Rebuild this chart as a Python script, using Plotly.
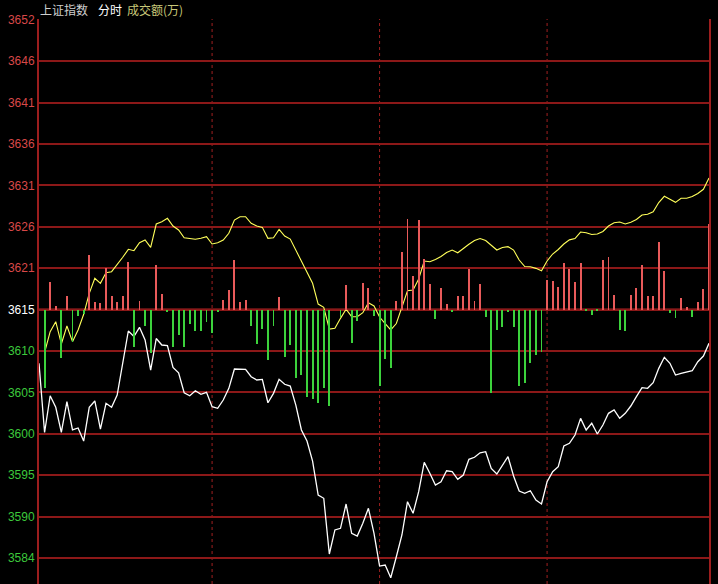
import plotly.graph_objects as go

# ---------------- data ----------------
minutes = list(range(121))  # 2-minute sample index across the session

index_price = [
    3608.74, 3600.05, 3604.67, 3603.22, 3600.08, 3603.94, 3600.37, 3600.62, 3598.98, 3603.22,
    3604.01, 3600.49, 3603.72, 3603.22, 3604.76, 3608.78, 3612.80, 3612.11, 3613.26, 3611.67,
    3607.90, 3611.86, 3611.04, 3610.98, 3608.22, 3607.56, 3605.05, 3604.67, 3605.30, 3604.85,
    3605.10, 3603.29, 3603.09, 3604.13, 3605.60, 3608.03, 3607.99, 3607.99, 3607.06, 3606.65,
    3606.73, 3603.79, 3604.97, 3606.73, 3606.11, 3605.89, 3603.50, 3600.37, 3598.98, 3596.47,
    3592.20, 3591.79, 3584.79, 3587.81, 3588.02, 3591.07, 3587.39, 3587.05, 3588.65, 3590.53,
    3587.39, 3583.28, 3583.41, 3581.81, 3584.45, 3587.18, 3591.36, 3589.90, 3592.62, 3596.31,
    3594.93, 3593.46, 3593.87, 3595.25, 3595.13, 3594.17, 3594.71, 3596.69, 3596.94, 3597.51,
    3597.64, 3595.55, 3594.84, 3595.97, 3597.01, 3594.59, 3592.70, 3592.41, 3592.74, 3591.57,
    3591.07, 3593.87, 3595.13, 3595.76, 3598.36, 3598.69, 3599.74, 3601.83, 3600.37, 3601.21,
    3599.86, 3600.99, 3602.46, 3602.88, 3601.83, 3602.46, 3603.38, 3604.55, 3605.68, 3605.60,
    3606.31, 3608.11, 3609.50, 3608.74, 3607.27, 3607.49, 3607.61, 3607.81, 3608.94, 3609.66,
    3611.25,
]

lead_price = [
    None, 3610.10, 3612.71, 3613.97, 3611.17, 3613.43, 3611.46, 3612.93, 3614.90, 3617.53,
    3619.42, 3618.79, 3620.12, 3620.25, 3621.09, 3622.06, 3623.06, 3622.89, 3623.89, 3624.23,
    3623.31, 3626.24, 3626.53, 3626.95, 3625.99, 3625.49, 3624.52, 3624.44, 3624.32, 3624.44,
    3624.64, 3623.73, 3623.89, 3624.23, 3625.07, 3626.74, 3627.16, 3627.16, 3626.33, 3625.99,
    3625.82, 3624.44, 3624.52, 3625.57, 3624.73, 3624.35, 3622.97, 3621.38, 3620.12, 3618.79,
    3616.19, 3615.78, 3613.05, 3613.14, 3614.39, 3615.53, 3614.60, 3614.60, 3615.10, 3616.35,
    3615.94, 3614.56, 3613.74, 3612.93, 3613.74, 3615.75, 3617.86, 3617.95, 3619.33, 3621.59,
    3621.50, 3621.78, 3622.16, 3622.66, 3622.97, 3622.63, 3623.19, 3623.69, 3624.17, 3624.42,
    3624.17, 3623.60, 3622.97, 3623.29, 3623.39, 3622.97, 3621.72, 3620.90, 3620.88, 3620.67,
    3620.36, 3621.59, 3622.47, 3623.04, 3623.73, 3624.25, 3624.41, 3625.23, 3625.15, 3624.92,
    3624.98, 3625.30, 3625.99, 3626.39, 3626.49, 3626.24, 3626.46, 3626.80, 3627.37, 3627.47,
    3627.78, 3628.94, 3629.72, 3629.34, 3628.96, 3629.47, 3629.47, 3629.69, 3630.07, 3630.60,
    3632.02,
]

power_bars = [
    0, -788, 278, 37, -482, 135, -322, -63, -45, 545,
    78, 65, 418, 137, 78, 137, 477, -372, 88, -162,
    -438, 445, 155, -22, -372, -255, -372, -145, -212, -212,
    -122, -232, -22, 95, 195, 495, 75, 95, -165, -345,
    -195, -505, -162, 128, -472, -355, -680, -655, -870, -898,
    -938, -788, -960, 0, -73, 245, -332, -110, 268, 220,
    -63, -765, -495, -580, 88, 578, 905, 335, 895, 505,
    255, -98, 220, 55, -22, 135, 135, 408, 87, 255,
    -72, -832, -205, -172, -22, -172, -765, -738, -532, -455,
    -422, 295, 285, 228, 462, 405, 278, 462, -15, -55,
    -15, 498, 522, 145, -205, -210, 145, 215, 445, 135,
    132, 675, 388, -38, -88, 118, 28, -72, 78, 207,
    855,
]

tick_labels = ["3584", "3590", "3595", "3600", "3605", "3610", "3615",
               "3621", "3626", "3631", "3636", "3641", "3646", "3652"]
tick_steps = list(range(-6, 8))
hour_marks = [31, 61, 91]

# ---------------- styling ----------------
PREV_CLOSE = 3615.5
STEP = 5.2
Y_LO = PREV_CLOSE - 6.63 * STEP
Y_HI = PREV_CLOSE + 7.017 * STEP
BAR_PER_POINT = 79.6

GRID = "#8c1818"
RED_TXT = "#d84848"
GREEN_TXT = "#3cc83c"

tickvals = [PREV_CLOSE + k * STEP for k in tick_steps]
ticktext = []
for k, lab in zip(tick_steps, tick_labels):
    c = GREEN_TXT if k < 0 else ("#ffffff" if k == 0 else RED_TXT)
    ticktext.append(f'<span style="color:{c}">{lab}</span>')

bar_colors = ["#e85a5a" if v >= 0 else "#3cd23c" for v in power_bars]

fig = go.Figure()
fig.add_trace(go.Bar(
    x=minutes, y=power_bars, yaxis="y2", width=0.17,
    marker=dict(color=bar_colors, line=dict(width=0)),
    showlegend=False, hoverinfo="skip",
))
fig.add_trace(go.Scatter(
    x=minutes, y=lead_price, mode="lines",
    line=dict(color="#ffff5a", width=1.1), showlegend=False,
))
fig.add_trace(go.Scatter(
    x=minutes, y=index_price, mode="lines",
    line=dict(color="#ffffff", width=1.3), showlegend=False,
))

for m in hour_marks:
    fig.add_shape(type="line", xref="x", yref="paper", x0=m, x1=m, y0=0, y1=1,
                  line=dict(color="#a02020", width=1, dash="dot"), layer="below")

fig.add_shape(type="line", xref="paper", yref="y", x0=0, x1=1, y0=PREV_CLOSE, y1=PREV_CLOSE,
              line=dict(color="#b42424", width=2), layer="below")

title_parts = [("上证指数", "#cfcfcf", -0.001), ("分时", "#ffffff", 0.085), ("成交额(万)", "#c8c878", 0.128)]
for txt, col, xp in title_parts:
    fig.add_annotation(text=txt, xref="paper", yref="paper", x=xp, y=1.0175,
                       xanchor="left", yanchor="middle", showarrow=False,
                       font=dict(family="Noto Sans CJK SC", size=12, color=col))

fig.update_layout(
    width=718, height=584,
    margin=dict(l=39, r=9, t=19, b=0, autoexpand=False),
    paper_bgcolor="#000000", plot_bgcolor="#000000",
    bargap=0,
    xaxis=dict(range=[0, 120], showgrid=False, zeroline=False, showticklabels=False,
               showline=False, fixedrange=True, automargin=False),
    yaxis=dict(range=[Y_LO, Y_HI], tickvals=tickvals, ticktext=ticktext,
               showgrid=True, gridcolor=GRID, gridwidth=2, zeroline=False,
               showline=True, linecolor="#9c1e1e", linewidth=2, mirror=True,
               ticks="", tickfont=dict(family="Liberation Sans", size=12, color=RED_TXT),
               fixedrange=True, automargin=False),
    yaxis2=dict(range=[(Y_LO - PREV_CLOSE) * BAR_PER_POINT, (Y_HI - PREV_CLOSE) * BAR_PER_POINT],
                overlaying="y", showgrid=False, zeroline=False, showticklabels=False,
                visible=False, fixedrange=True, automargin=False),
    font=dict(family="Liberation Sans", color="#ffffff"),
)

fig.write_html(
    "out.html",
    config={"displayModeBar": False},
    post_script="document.body.style.margin='0';document.body.style.background='#000';document.body.style.overflow='hidden';",
)
